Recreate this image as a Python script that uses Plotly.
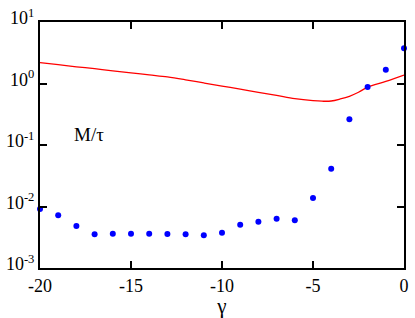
import plotly.graph_objects as go

# Blue dots
dot_gamma = [-20, -19, -18, -17, -16, -15, -14, -13, -12, -11, -10,
             -9, -8, -7, -6, -5, -4, -3, -2, -1, 0]
dot_values = [0.0091, 0.0072, 0.0048, 0.00354, 0.00362, 0.00362, 0.00362, 0.00358,
              0.00354, 0.00340, 0.00375, 0.00505, 0.00567, 0.0063, 0.0060,
              0.0137, 0.041, 0.263, 0.88, 1.68, 3.75]

# Red line
line_gamma = [-20, -19, -18, -17, -16, -15, -14, -13, -12, -11, -10, -9, -8, -7,
              -6, -5, -4.5, -4, -3.5, -3, -2.5, -2, -1, 0]
line_values = [2.18, 2.02, 1.87, 1.74, 1.61, 1.49, 1.38, 1.28, 1.15, 1.02, 0.91,
               0.81, 0.72, 0.64, 0.566, 0.525, 0.515, 0.519, 0.56, 0.62, 0.72,
               0.87, 1.08, 1.37]

x_tickvals = [-20, -15, -10, -5, 0]
x_ticktext = ["-20", "-15", "-10", "-5", "0"]
y_tickvals = [0.001, 0.01, 0.1, 1, 10]
y_ticktext = ["10<sup>-3</sup>", "10<sup>-2</sup>", "10<sup>-1</sup>",
              "10<sup>0</sup>", "10<sup>1</sup>"]

font = "Liberation Serif"

fig = go.Figure()
fig.add_trace(go.Scatter(x=line_gamma, y=line_values, mode="lines",
                         line=dict(color="#ff0000", width=1.3, shape="spline"),
                         showlegend=False))
fig.add_trace(go.Scatter(x=dot_gamma, y=dot_values, mode="markers",
                         marker=dict(color="#0000ff", size=6),
                         cliponaxis=False, showlegend=False))

fig.add_annotation(text="M/τ", x=(90 - 40) / 369, y=1 - (132 - 13) / 260,
                   xref="paper", yref="paper", xanchor="center", yanchor="middle",
                   showarrow=False, font=dict(family=font, size=19, color="black"))

fig.update_layout(
    width=415, height=318,
    margin=dict(l=40, r=6, t=13, b=45),
    plot_bgcolor="white", paper_bgcolor="white",
    font=dict(family=font, size=18, color="black"),
    xaxis=dict(range=[-20, 0], tickvals=x_tickvals, ticktext=x_ticktext,
               ticks="inside", ticklen=7, tickwidth=1.5, tickcolor="black",
               showline=True, linecolor="black", linewidth=2, mirror="ticks",
               showgrid=False, zeroline=False,
               title=dict(text="γ", font=dict(family=font, size=21), standoff=2)),
    yaxis=dict(type="log", range=[-3, 1], tickvals=y_tickvals, ticktext=y_ticktext,
               ticks="inside", ticklen=7, tickwidth=1.5, tickcolor="black",
               showline=True, linecolor="black", linewidth=2, mirror="ticks",
               showgrid=False, zeroline=False, ticklabelshift=-4,
               ticklabeloverflow="allow"),
)

fig.write_html("out.html", post_script="document.body.style.margin='0';",
               config={"displayModeBar": False})
